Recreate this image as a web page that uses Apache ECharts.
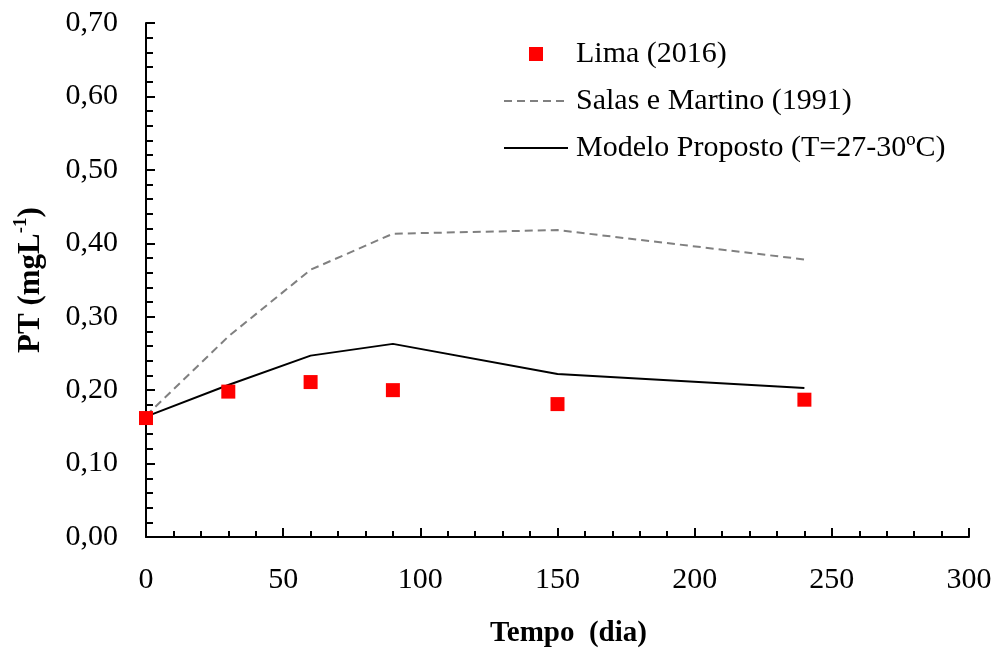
<!DOCTYPE html>
<html>
<head>
    <meta charset="UTF-8">
    <title>PT x Tempo</title>
    <script type="text/javascript" src="https://cdn.jsdelivr.net/npm/echarts@6/dist/echarts.min.js"></script>
    <style>
        html, body { margin: 0; padding: 0; background: #fff; }
        #myChart { width: 999px; height: 654px; }
    </style>
</head>
<body>
<div id="myChart"></div>
<script>
// dados
var tempo = [0, 30, 60, 90, 150, 240];
var lima = [0.162, 0.198, 0.211, 0.200, 0.181, 0.187];
var salas = [0.165, 0.273, 0.364, 0.413, 0.418, 0.378];
var modelo = [0.164, 0.207, 0.247, 0.263, 0.222, 0.203];

var nomes = ['Lima (2016)', 'Salas e Martino (1991)', 'Modelo Proposto (T=27-30ºC)'];

function pares(xs, ys) {
    var out = [];
    for (var i = 0; i < xs.length; i++) {
        out.push([xs[i], ys[i]]);
    }
    return out;
}

var fonte = '"Liberation Serif", "Times New Roman", serif';
// legenda das linhas sem o circulo
var semSimbolo = {color: 'rgba(0,0,0,0)', borderColor: 'rgba(0,0,0,0)', borderWidth: 0};

var chart = echarts.init(document.getElementById('myChart'), null, {renderer: 'canvas'});

var option = {
    backgroundColor: '#fff',
    animation: false,
    grid: {left: 146, right: 30, top: 23, bottom: 117},
    legend: {
        orient: 'vertical',
        left: 498,
        top: 34,
        itemWidth: 64,
        itemHeight: 14,
        itemGap: 17,
        symbolKeepAspect: true,
        textStyle: {fontFamily: fonte, fontSize: 30, color: '#000', padding: [0, 0, 0, 3]},
        data: [
            {name: nomes[0], icon: 'path://M0,0h10v10h-10z'},
            {name: nomes[1], itemStyle: semSimbolo},
            {name: nomes[2], itemStyle: semSimbolo}
        ]
    },
    xAxis: {
        type: 'value',
        min: 0,
        max: 300,
        interval: 50,
        name: 'Tempo  (dia)',
        nameLocation: 'middle',
        nameGap: 82,
        nameTextStyle: {fontFamily: fonte, fontSize: 29, fontWeight: 'bold', color: '#000', padding: [0, 0, 0, 22]},
        axisLine: {lineStyle: {color: '#000', width: 2}},
        axisTick: {inside: true, length: 9, lineStyle: {color: '#000', width: 2}},
        minorTick: {show: true, splitNumber: 5, length: 6, lineStyle: {color: '#000', width: 2}},
        axisLabel: {fontFamily: fonte, fontSize: 30, color: '#000', margin: 28},
        splitLine: {show: false}
    },
    yAxis: {
        type: 'value',
        min: 0,
        max: 0.7,
        interval: 0.1,
        name: '{a|PT (mgL}{s|-1}{a|)}',
        nameLocation: 'middle',
        nameGap: 100,
        nameRotate: 90,
        nameTextStyle: {
            rich: {
                a: {fontFamily: fonte, fontSize: 31, fontWeight: 'bold', color: '#000', lineHeight: 34, verticalAlign: 'bottom'},
                s: {fontFamily: fonte, fontSize: 19, fontWeight: 'bold', color: '#000', lineHeight: 34, verticalAlign: 'top', padding: [0, 0, 14, 0]}
            }
        },
        axisLine: {show: true, lineStyle: {color: '#000', width: 2}},
        axisTick: {show: true, inside: true, length: 9, lineStyle: {color: '#000', width: 2}},
        minorTick: {show: true, splitNumber: 5, length: 7, lineStyle: {color: '#000', width: 2}},
        axisLabel: {
            fontFamily: fonte, fontSize: 30, color: '#000', margin: 28,
            formatter: function (v) { return v.toFixed(2).replace('.', ','); }
        },
        splitLine: {show: false}
    },
    series: [
        {
            name: nomes[1],
            type: 'line',
            data: pares(tempo, salas),
            symbol: 'none',
            lineStyle: {color: '#808080', width: 2, type: [8, 5]},
            itemStyle: {color: '#808080'},
            z: 2
        },
        {
            name: nomes[2],
            type: 'line',
            data: pares(tempo, modelo),
            symbol: 'none',
            lineStyle: {color: '#000', width: 2},
            itemStyle: {color: '#000'},
            z: 3
        },
        {
            name: nomes[0],
            type: 'scatter',
            data: pares(tempo, lima),
            symbol: 'rect',
            symbolSize: 14,
            itemStyle: {color: '#ff0000', opacity: 1},
            z: 4
        }
    ]
};

chart.setOption(option);
</script>
</body>
</html>
